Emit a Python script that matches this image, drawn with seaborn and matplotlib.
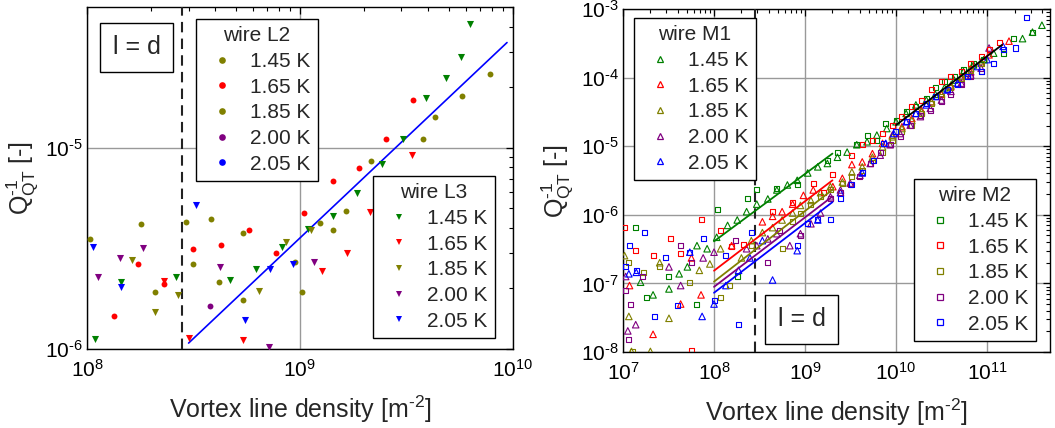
import matplotlib
matplotlib.use("Agg")
import numpy as np
import matplotlib.pyplot as plt
from matplotlib.lines import Line2D
from matplotlib.ticker import LogLocator, NullFormatter, FuncFormatter
import seaborn as sns

# ---------------- data: left panel (wires L2 / L3) ----------------
L2_145_x = [1.03e8, 1.79e8, 2.93e8, 3.82e8, 5.4e8, 1.24e9, 1.64e9, 2.16e9, 4.32e9, 7.84e9]
L2_145_y = [3.52e-6, 4.18e-6, 4.26e-6, 4.41e-6, 3.76e-6, 4.23e-6, 4.87e-6, 8.6e-6, 1.42e-5, 2.32e-5]
L2_165_x = [1.34e8, 1.74e8, 2.31e8, 3.13e8, 4.26e8, 5.74e8, 7.71e8, 1.04e9, 1.43e9, 1.9e9, 2.54e9, 3.4e9]
L2_165_y = [1.46e-6, 2.63e-6, 2.11e-6, 3.13e-6, 3.27e-6, 3.89e-6, 2.99e-6, 4.73e-6, 6.8e-6, 7.9e-6, 1.1e-5, 1.73e-5]
L2_185_x = [2.08e8, 3.13e8, 4.15e8, 5.4e8, 9.48e8, 1.02e9, 1.43e9, 3.77e9, 5.8e9]
L2_185_y = [1.93e-6, 2.63e-6, 2.15e-6, 1.75e-6, 2.72e-6, 1.93e-6, 3.89e-6, 1.1e-5, 1.81e-5]
L2_200_x = [3.77e8]
L2_200_y = [1.64e-6]
L2_205_x = []
L2_205_y = []

L3_145_x = [1.09e8, 1.45e8, 2.62e8, 4.72e8, 6.21e8, 8.26e8, 1.09e9, 1.43e9, 1.85e9, 2.43e9, 3.05e9, 3.92e9, 4.84e9, 5.7e9, 6.27e9]
L3_145_y = [1.12e-6, 2.15e-6, 2.29e-6, 2.2e-6, 2.51e-6, 3.21e-6, 3.95e-6, 4.58e-6, 5.96e-6, 8.3e-6, 1.1e-5, 1.77e-5, 2.22e-5, 2.81e-5, 4.1e-5]
L3_165_x = [2.31e8, 3.01e8, 5.4e8, 1.27e9, 1.66e9, 2.14e9, 3.38e9]
L3_165_y = [2.18e-6, 1.14e-6, 1.11e-6, 2.45e-6, 2.99e-6, 4.79e-6, 9.2e-6]
L3_185_x = [1.62e8, 2.08e8, 2.68e8, 6.42e8, 8.59e8, 1.13e9]
L3_185_y = [2.76e-6, 1.52e-6, 1.85e-6, 1.95e-6, 3.41e-6, 3.92e-6]
L3_200_x = [1.12e8, 1.43e8, 1.84e8, 4.21e8, 7.18e8, 1.17e9]
L3_200_y = [2.29e-6, 2.84e-6, 3.16e-6, 2.56e-6, 1.02e-6, 2.7e-6]
L3_205_x = [1.07e8, 1.45e8, 3.24e8, 5.52e8, 7.23e8, 9.3e8]
L3_205_y = [3.21e-6, 2.04e-6, 5.17e-6, 1.39e-6, 2.51e-6, 2.63e-6]

fitL_x = [3.0e8, 9.4e9]
fitL_y = [1.07e-6, 3.33e-5]

# ---------------- data: right panel (wires M1 / M2) ----------------
M1_145_x = [1.56e7, 2.14e7, 3.2e7, 4.14e7, 5.1e7, 6.5e7, 8.4e7, 1.07e8, 1.41e8, 1.8e8, 2.28e8, 2.95e8, 3.9e8,
            4.9e8, 6.4e8, 8.2e8, 1.07e9, 1.38e9, 1.76e9, 2.27e9, 2.9e9, 3.7e9, 4.8e9, 6.15e9, 7.9e9, 1.0e10,
            1.29e10, 1.65e10, 2.15e10, 2.7e10, 3.4e10, 4.35e10, 5.5e10, 7.1e10, 9.2e10, 1.18e11, 2.45e11, 3.15e11, 4.0e11]
M1_145_y = [1.04e-7, 6.8e-8, 8.3e-8, 1.38e-7, 1.74e-7, 3.55e-7, 3.2e-7, 4.7e-7, 7.0e-7, 8.4e-7, 1.11e-6, 1.43e-6, 1.7e-6,
            2.3e-6, 2.72e-6, 3.18e-6, 4.07e-6, 5.0e-6, 5.6e-6, 6.9e-6, 8.2e-6, 1.05e-5, 1.16e-5, 1.45e-5, 1.81e-5, 2.27e-5,
            3.0e-5, 4.0e-5, 4.7e-5, 5.7e-5, 7.1e-5, 9.2e-5, 1.22e-4, 1.53e-4, 1.83e-4, 2.27e-4, 3.7e-4, 4.6e-4, 5.8e-4]
M1_165_x = [1.18e7, 2.14e7, 4.3e7, 5.65e7, 7.2e7, 1.56e8, 3.4e8, 4.4e8, 5.6e8, 7.3e8, 9.6e8, 1.23e9, 2.02e9, 2.57e9,
            3.27e9, 4.25e9, 5.5e9, 7.1e9, 9.1e9, 1.16e10, 1.49e10, 1.9e10, 2.45e10, 3.15e10, 4.0e10, 5.2e10, 6.6e10,
            8.6e10, 1.05e11, 1.74e11]
M1_165_y = [9.3e-8, 1.81e-8, 5.0e-8, 2.35e-7, 6.8e-8, 3.55e-7, 7.9e-7, 9.5e-7, 1.11e-6, 1.43e-6, 1.92e-6, 2.3e-6, 2.57e-6, 3.4e-6,
            5.4e-6, 5.9e-6, 7.8e-6, 1.1e-5, 1.45e-5, 1.92e-5, 2.54e-5, 3.36e-5, 4.45e-5, 5.7e-5, 7.4e-5, 9.8e-5, 1.22e-4,
            1.62e-4, 2.15e-4, 3.4e-4]
M1_185_x = [1.04e7, 1.16e7, 1.24e7, 2.0e7, 2.53e7, 3.2e7, 6.9e7, 9.0e7, 1.18e8, 2.0e8, 2.57e8, 3.4e8, 4.4e8, 5.6e8,
            7.3e8, 8.9e8, 1.16e9, 1.48e9, 1.9e9, 2.57e9, 3.27e9, 4.25e9, 5.5e9, 7.1e9, 9.1e9, 1.16e10, 1.49e10,
            1.9e10, 2.45e10, 3.15e10, 4.0e10, 5.2e10, 6.6e10, 8.6e10]
M1_185_y = [2.54e-7, 3.3e-8, 1.02e-8, 1.02e-8, 2.0e-7, 3.1e-8, 1.55e-7, 1.92e-7, 3.2e-7, 2.35e-7, 4.2e-7, 5.5e-7, 6.5e-7, 8.4e-7,
            1.06e-6, 1.37e-6, 1.62e-6, 2.1e-6, 2.57e-6, 3.0e-6, 4.2e-6, 5.0e-6, 6.9e-6, 9.8e-6, 1.37e-5, 1.81e-5, 2.37e-5,
            3.18e-5, 4.45e-5, 5.9e-5, 7.8e-5, 1.04e-4, 1.37e-4, 1.71e-4]
M1_200_x = [1.07e7, 1.13e7, 1.38e7, 3.2e7, 4.3e7, 7.6e7, 1.0e8, 2.28e8, 2.95e8, 3.9e8, 4.9e8, 6.8e8, 8.9e8, 1.16e9,
            1.48e9, 1.9e9, 2.45e9, 3.13e9, 4.0e9, 5.2e9, 6.7e9, 8.6e9, 1.11e10, 1.43e10, 1.85e10, 2.38e10, 3.15e10,
            4.0e10, 5.2e10, 6.6e10, 8.6e10, 1.05e11]
M1_200_y = [1.26e-7, 2.03e-8, 2.5e-8, 1.74e-7, 9.3e-8, 2.35e-7, 2.85e-7, 3.2e-7, 3.55e-7, 4.45e-7, 5.3e-7, 3.55e-7, 5.3e-7, 7.4e-7,
            1.06e-6, 1.83e-6, 2.3e-6, 2.9e-6, 3.77e-6, 5.6e-6, 7.4e-6, 1.05e-5, 1.53e-5, 2.03e-5, 2.7e-5, 3.56e-5, 4.7e-5,
            6.3e-5, 8.3e-5, 1.09e-4, 1.37e-4, 2.7e-4]
M1_205_x = [1.16e7, 1.4e7, 5.42e7, 7.4e7, 1.0e8, 1.35e8, 1.86e8, 2.48e8, 3.4e8, 4.4e8, 8.2e8, 1.38e9, 2.45e9, 4.25e9,
            7.7e9, 9.4e9, 1.29e10, 1.65e10, 2.15e10, 2.82e10, 3.63e10, 4.75e10, 6.1e10, 7.8e10, 1.0e11, 1.5e11]
M1_205_y = [1.38e-7, 1.45e-7, 2.85e-7, 3.3e-8, 5.0e-8, 9.3e-8, 1.55e-7, 2.35e-7, 4.2e-7, 1.12e-7, 3.0e-7, 8.4e-7, 2.1e-6, 4.07e-6,
            1.1e-5, 1.53e-5, 2.27e-5, 3.0e-5, 4.0e-5, 5.3e-5, 6.6e-5, 8.3e-5, 1.16e-4, 1.45e-4, 1.83e-4, 2.85e-4]

M2_145_x = [1.37e7, 1.81e7, 3.2e7, 6.5e7, 1.08e8, 1.8e8, 2.34e8, 2.95e8, 4.8e8, 8.2e8, 1.76e9, 2.27e9, 3.7e9, 4.8e9,
            6.15e9, 7.7e9, 1.0e10, 1.29e10, 1.65e10, 2.15e10, 2.7e10, 3.4e10, 4.35e10, 5.5e10, 7.1e10, 9.2e10,
            1.5e11, 1.93e11, 3.15e11]
M2_145_y = [6.5e-7, 6.2e-8, 1.26e-7, 5.0e-8, 1.18e-6, 1.26e-7, 1.7e-6, 2.3e-6, 2.4e-6, 2.72e-6, 6.2e-6, 8.2e-6, 1.05e-5, 1.45e-5,
            1.22e-5, 2.15e-5, 2.37e-5, 3.18e-5, 3.8e-5, 5.0e-5, 7.1e-5, 8.7e-5, 1.04e-4, 1.29e-4, 1.62e-4, 1.83e-4,
            2.27e-4, 3.7e-4, 4.6e-4]
M2_165_x = [1.04e7, 1.37e7, 2.19e7, 3.35e7, 4.3e7, 5.65e7, 7.2e7, 1.18e8, 1.56e8, 2.1e8, 4.4e8, 7.3e8, 1.23e9, 1.58e9,
            2.02e9, 3.27e9, 4.25e9, 5.5e9, 7.1e9, 9.1e9, 1.16e10, 1.49e10, 1.9e10, 2.45e10, 3.15e10, 4.0e10, 5.2e10,
            6.6e10, 8.6e10, 1.05e11, 1.38e11]
M2_165_y = [6.5e-7, 3.0e-7, 2.54e-7, 4.45e-7, 2.7e-7, 1.05e-8, 8.4e-7, 5.9e-7, 3.45e-7, 3.7e-7, 1.11e-6, 1.53e-6, 2.9e-6, 2.1e-6,
            3.9e-6, 7.4e-6, 1.05e-5, 1.22e-5, 1.53e-5, 2.03e-5, 2.7e-5, 3.8e-5, 4.7e-5, 6.6e-5, 8.7e-5, 1.04e-4, 1.22e-4,
            1.62e-4, 2.03e-4, 2.54e-4, 3.2e-4]
M2_185_x = [1.16e7, 1.27e7, 1.66e7, 2.53e7, 5.33e7, 1.18e8, 1.49e8, 2.57e8, 5.6e8, 7.3e8, 8.9e8, 1.16e9, 1.48e9, 1.9e9,
            2.57e9, 3.27e9, 4.25e9, 5.5e9, 7.1e9, 9.1e9, 1.16e10, 1.49e10, 1.9e10, 2.45e10, 3.15e10, 4.0e10, 5.2e10,
            6.6e10, 8.6e10]
M2_185_y = [2.0e-7, 1.02e-8, 1.45e-7, 1.74e-7, 1.04e-7, 6.2e-8, 9.3e-8, 3.55e-7, 3.2e-7, 7.9e-7, 1.06e-6, 1.43e-6, 1.83e-6, 2.3e-6,
            2.9e-6, 3.56e-6, 4.45e-6, 6.2e-6, 8.2e-6, 1.22e-5, 1.62e-5, 2.03e-5, 3.0e-5, 4.2e-5, 5.3e-5, 7.1e-5, 9.8e-5,
            1.29e-4, 1.62e-4]
M2_200_x = [1.07e7, 1.2e7, 1.16e7, 1.63e7, 4.3e7, 5.65e7, 1.74e8, 3.9e8, 5.2e8, 8.9e8, 1.9e9, 2.45e9, 3.13e9, 4.0e9,
            5.2e9, 6.7e9, 8.6e9, 1.11e10, 1.43e10, 1.85e10, 2.38e10, 3.15e10, 4.0e10, 5.2e10, 6.6e10, 8.6e10]
M2_200_y = [7.8e-8, 5.0e-8, 1.53e-8, 1.26e-7, 3.55e-7, 2.0e-7, 4.2e-7, 2.0e-7, 5.9e-7, 5.0e-7, 1.7e-6, 2.1e-6, 2.72e-6, 3.56e-6,
            5.6e-6, 8.2e-6, 1.05e-5, 1.37e-5, 2.03e-5, 2.8e-5, 3.36e-5, 4.45e-5, 5.7e-5, 7.8e-5, 1.04e-4, 1.22e-4]
M2_205_x = [1.07e7, 1.18e7, 1.4e7, 1.73e7, 2.23e7, 2.95e7, 3.93e7, 5.33e7, 7.6e7, 1.0e8, 1.35e8, 1.86e8, 2.57e8, 8.2e8,
            1.07e9, 1.38e9, 1.9e9, 2.45e9, 3.27e9, 4.25e9, 5.65e9, 7.3e9, 9.8e9, 1.29e10, 1.65e10, 2.15e10, 2.7e10,
            3.63e10, 4.75e10, 6.1e10, 8.6e10, 1.18e11, 1.5e11, 2.04e11, 2.7e11]
M2_205_y = [1.74e-7, 3.55e-7, 1.55e-7, 5.5e-7, 3.3e-8, 2.35e-7, 4.7e-8, 2.85e-7, 4.45e-7, 5.6e-8, 2.54e-7, 2.5e-8, 5.5e-7, 3.55e-7,
            7.4e-7, 8.4e-7, 8.4e-7, 1.7e-6, 2.72e-6, 4.07e-6, 6.2e-6, 1.1e-5, 1.62e-5, 2.27e-5, 3.0e-5, 4.2e-5, 5.3e-5,
            6.6e-5, 7.8e-5, 1.04e-4, 1.22e-4, 1.62e-4, 2.54e-4, 2.7e-4, 7.4e-4]

fitM_x = [1.0e8, 2.0e9]
fitM_145_y = [4.1e-7, 7.8e-6]
fitM_165_y = [1.53e-7, 3.18e-6]
fitM_185_y = [1.06e-7, 2.32e-6]
fitM_200_y = [8.9e-8, 1.85e-6]
fitM_205_y = [7.3e-8, 1.53e-6]
fitHigh_x = [1.0e10, 1.46e11]
fitHigh_y = [2.03e-5, 3.0e-4]

ld_x = 2.8e8  # l = d

temps = ["1.45 K", "1.65 K", "1.85 K", "2.00 K", "2.05 K"]
c_green, c_red, c_olive, c_purple, c_blue = "#008000", "#ff0000", "#808000", "#800080", "#0000ff"
L2_colors = [c_olive, c_red, c_olive, c_purple, c_blue]
L3_colors = [c_green, c_red, c_olive, c_purple, c_blue]
M_colors = [c_green, c_red, c_olive, c_purple, c_blue]

# ---------------- style ----------------
sns.set_theme(style="white")
plt.rcParams["font.family"] = ["Liberation Sans", "DejaVu Sans"]
plt.rcParams["mathtext.fontset"] = "custom"
plt.rcParams["mathtext.rm"] = "Liberation Sans"
plt.rcParams["mathtext.it"] = "Liberation Sans:italic"
plt.rcParams["mathtext.bf"] = "Liberation Sans:bold"
plt.rcParams["mathtext.default"] = "regular"
plt.rcParams["axes.edgecolor"] = "black"
plt.rcParams["axes.linewidth"] = 1.0

HY = "\u2010"  # short hyphen as used in the reference exponents

def pow10(v, pos):
    e = int(round(np.log10(v)))
    s = str(e).replace("-", HY)
    return "$10^{" + s + "}$"

fig = plt.figure(figsize=(10.55, 4.28), dpi=100)
axL = fig.add_axes([0.0825, 0.1846, 0.4035, 0.799])
axR = fig.add_axes([0.5905, 0.1776, 0.4047, 0.8014])

for ax in (axL, axR):
    ax.set_xscale("log")
    ax.set_yscale("log")

def style_axes(ax):
    ax.grid(True, which="major", color="#999999", linewidth=1.0)
    ax.set_axisbelow(True)
    ax.tick_params(which="both", direction="in", top=True, right=True, colors="black",
                   labelsize=15)
    ax.tick_params(axis="x", which="major", pad=7)
    ax.tick_params(axis="y", which="major", pad=3)
    ax.tick_params(which="major", length=5, width=0.9)
    ax.tick_params(which="minor", length=3, width=0.8)
    ax.xaxis.set_major_formatter(FuncFormatter(pow10))
    ax.yaxis.set_major_formatter(FuncFormatter(pow10))
    ax.xaxis.set_minor_locator(LogLocator(base=10, subs=range(2, 10), numticks=20))
    ax.yaxis.set_minor_locator(LogLocator(base=10, subs=range(2, 10), numticks=20))
    ax.xaxis.set_minor_formatter(NullFormatter())
    ax.yaxis.set_minor_formatter(NullFormatter())
    for s in ax.spines.values():
        s.set_color("black")
        s.set_linewidth(1.0)
    ax.set_xlabel("Vortex line density [m$^{" + HY + "2}$]", fontsize=18, labelpad=9)
    ax.set_ylabel("Q$^{" + HY + "1}_{QT}$ [-]", fontsize=18, labelpad=4)

def id_box(ax, x, y):
    ax.text(x, y, "l = d", transform=ax.transAxes, ha="center", va="center", fontsize=18,
            bbox=dict(boxstyle="square,pad=0.5", facecolor="white", edgecolor="black", linewidth=1.0),
            zorder=6)

# ---------------- left panel ----------------
L2_x = [L2_145_x, L2_165_x, L2_185_x, L2_200_x, L2_205_x]
L2_y = [L2_145_y, L2_165_y, L2_185_y, L2_200_y, L2_205_y]
L3_x = [L3_145_x, L3_165_x, L3_185_x, L3_200_x, L3_205_x]
L3_y = [L3_145_y, L3_165_y, L3_185_y, L3_200_y, L3_205_y]

for xs, ys, c in zip(L2_x, L2_y, L2_colors):
    if xs:
        sns.scatterplot(x=xs, y=ys, ax=axL, marker="o", color=c, s=18, linewidth=0, zorder=4)
for xs, ys, c in zip(L3_x, L3_y, L3_colors):
    sns.scatterplot(x=xs, y=ys, ax=axL, marker="v", color=c, s=26, linewidth=0, zorder=4)
sns.lineplot(x=fitL_x, y=fitL_y, ax=axL, color=c_blue, linewidth=1.2, zorder=3)
axL.axvline(ld_x, color="#222222", linestyle=(0, (5, 3)), linewidth=1.5, zorder=3)

axL.set_xlim(1e8, 1e10)
axL.set_ylim(1e-6, 5.0e-5)
style_axes(axL)

def legend(ax, title, marker, colors, filled, anchor, loc):
    handles = []
    for c in colors:
        if filled:
            h = Line2D([], [], linestyle="none", marker=marker, markersize=4.8, markerfacecolor=c,
                       markeredgecolor=c, markeredgewidth=0)
        else:
            h = Line2D([], [], linestyle="none", marker=marker, markersize=5, markerfacecolor="none",
                       markeredgecolor=c, markeredgewidth=0.9)
        handles.append(h)
    leg = ax.legend(handles, temps, title=title, loc=loc, bbox_to_anchor=anchor, fontsize=15,
                    title_fontsize=15, frameon=True, fancybox=False, framealpha=1.0, edgecolor="black",
                    borderpad=0.35, labelspacing=0.32, handlelength=1.8, handletextpad=0.45,
                    borderaxespad=0.0)
    leg.get_frame().set_linewidth(1.0)
    leg.set_zorder(7)
    return leg

legA = legend(axL, "wire L2", "o", L2_colors, True, (0.256, 0.965), "upper left")
axL.add_artist(legA)
legend(axL, "wire L3", "v", L3_colors, True, (0.958, 0.032), "lower right")
id_box(axL, 0.117, 0.883)

# ---------------- right panel ----------------
M1_x = [M1_145_x, M1_165_x, M1_185_x, M1_200_x, M1_205_x]
M1_y = [M1_145_y, M1_165_y, M1_185_y, M1_200_y, M1_205_y]
M2_x = [M2_145_x, M2_165_x, M2_185_x, M2_200_x, M2_205_x]
M2_y = [M2_145_y, M2_165_y, M2_185_y, M2_200_y, M2_205_y]
fitM_y = [fitM_145_y, fitM_165_y, fitM_185_y, fitM_200_y, fitM_205_y]

for xs, ys, c in zip(M1_x, M1_y, M_colors):
    sns.scatterplot(x=xs, y=ys, ax=axR, marker="^", s=22, facecolor="none", edgecolor=c,
                    linewidth=0.8, zorder=4)
for xs, ys, c in zip(M2_x, M2_y, M_colors):
    sns.scatterplot(x=xs, y=ys, ax=axR, marker="s", s=13, facecolor="none", edgecolor=c,
                    linewidth=0.8, zorder=4)
for ys, c in zip(fitM_y, M_colors):
    sns.lineplot(x=fitM_x, y=ys, ax=axR, color=c, linewidth=1.3, zorder=5)
sns.lineplot(x=fitHigh_x, y=fitHigh_y, ax=axR, color="black", linewidth=1.3, zorder=5)
axR.axvline(ld_x, color="#222222", linestyle=(0, (5, 3)), linewidth=1.5, zorder=3)

axR.set_xlim(1e7, 4.9e11)
axR.set_ylim(1e-8, 1e-3)
style_axes(axR)

legB = legend(axR, "wire M1", "^", M_colors, False, (0.026, 0.974), "upper left")
axR.add_artist(legB)
legend(axR, "wire M2", "s", M_colors, False, (0.967, 0.032), "lower right")
id_box(axR, 0.419, 0.095)

fig.savefig("out.png", dpi=100)
